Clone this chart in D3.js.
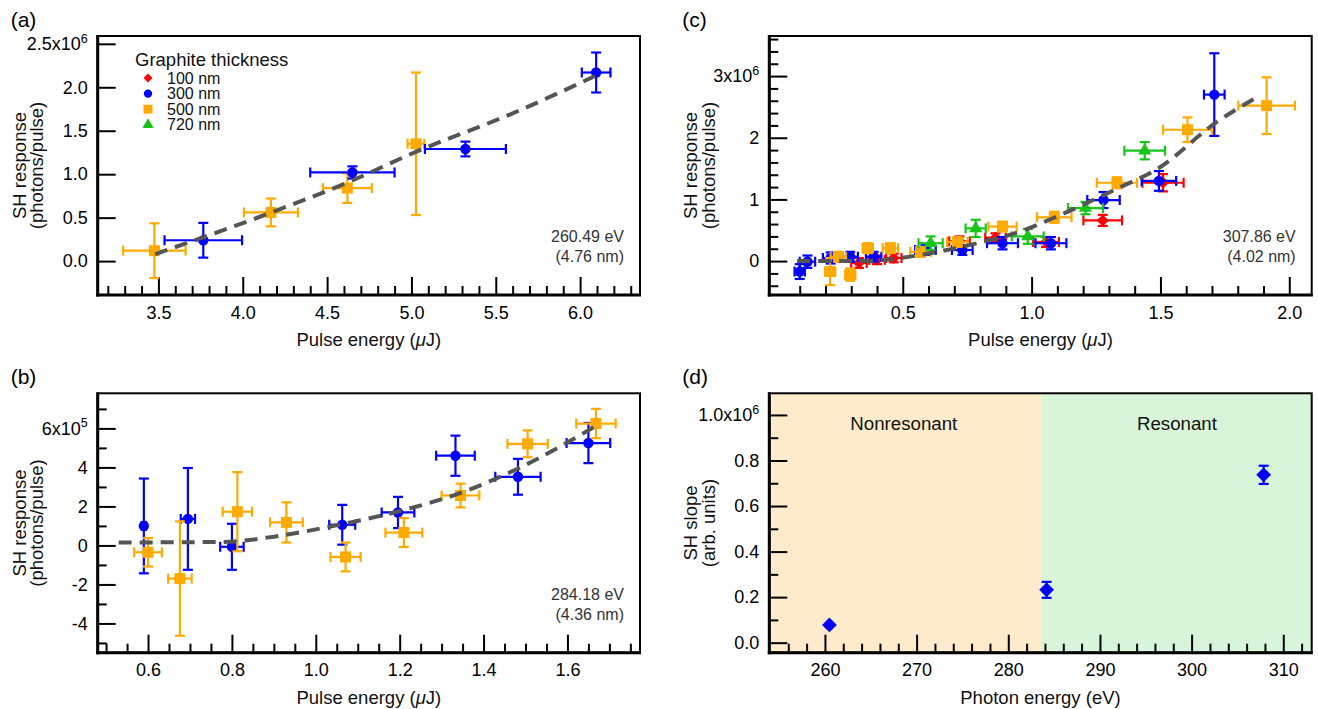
<!DOCTYPE html>
<html>
<head>
<meta charset="utf-8">
<script src="https://cdn.jsdelivr.net/npm/d3@7"></script>
<style>
  body { margin: 0; background: #fff; }
  svg { font-family: "Liberation Sans", Arial, Helvetica, sans-serif; }
</style>
</head>
<body>
<svg id="fig" width="1318" height="709"></svg>
<script>
// graphite thickness series
const thicknessLabels = ["100 nm", "300 nm", "500 nm", "720 nm"]
const thicknessColors = ["#ff0000", "#0000ff", "#ffaa00", "#18c418"]

// (a) 260.49 eV, y in 1e6 photons/pulse
const aOrangeX = [3.476, 4.167, 4.62, 5.027]
const aOrangeY = [0.12, 0.56, 0.84, 1.35]
const aOrangeXErr = [0.185, 0.16, 0.145, 0.05]
const aOrangeYErr = [0.315, 0.16, 0.17, 0.82]
const aBlueX = [3.766, 4.65, 5.32, 6.095]
const aBlueY = [0.24, 1.02, 1.29, 2.17]
const aBlueXErr = [0.23, 0.25, 0.24, 0.085]
const aBlueYErr = [0.2, 0.07, 0.085, 0.23]
const aFitX = [3.48, 4.17, 4.64, 5.03, 5.6, 6.10]
const aFitY = [0.08, 0.56, 0.92, 1.26, 1.70, 2.14]

// (b) 284.18 eV, y in 1e5 photons/pulse
const bBlueX = [0.59, 0.695, 0.80, 1.063, 1.196, 1.333, 1.482, 1.65]
const bBlueY = [1.0, 1.36, -0.07, 1.06, 1.69, 4.6, 3.52, 5.25]
const bBlueXErr = [0.005, 0.017, 0.028, 0.031, 0.039, 0.046, 0.054, 0.052]
const bBlueYErr = [2.43, 2.61, 1.18, 1.02, 0.8, 1.03, 0.92, 1.03]
const bOrangeX = [0.60, 0.676, 0.813, 0.93, 1.071, 1.21, 1.345, 1.505, 1.668]
const bOrangeY = [-0.35, -1.7, 1.73, 1.18, -0.59, 0.66, 2.56, 5.21, 6.25]
const bOrangeXErr = [0.033, 0.028, 0.035, 0.039, 0.036, 0.044, 0.045, 0.048, 0.047]
const bOrangeYErr = [0.73, 2.93, 2.03, 1.03, 0.74, 0.74, 0.61, 0.69, 0.75]
const bFitX = [0.53, 0.78, 0.90, 1.035, 1.196, 1.345, 1.48, 1.666]
const bFitY = [0.15, 0.18, 0.45, 0.97, 1.74, 2.69, 3.92, 6.1]

// (c) 307.86 eV, y in 1e6 photons/pulse
const cRedX = [0.33, 0.40, 0.465, 0.72, 0.86, 1.056, 1.276, 1.51]
const cRedY = [-0.03, 0.02, 0.05, 0.32, 0.38, 0.31, 0.66, 1.27]
const cRedXErr = [0.03, 0.03, 0.03, 0.04, 0.04, 0.05, 0.075, 0.08]
const cRedYErr = [0.08, 0.07, 0.07, 0.08, 0.07, 0.08, 0.09, 0.14]
const cBlueX = [0.10, 0.13, 0.22, 0.296, 0.387, 0.588, 0.731, 0.887, 1.075, 1.279, 1.494, 1.709]
const cBlueY = [-0.17, -0.01, 0.05, 0.07, 0.07, 0.18, 0.18, 0.29, 0.29, 0.99, 1.30, 2.70]
const cBlueXErr = [0.02, 0.03, 0.03, 0.03, 0.03, 0.04, 0.04, 0.06, 0.06, 0.063, 0.067, 0.04]
const cBlueYErr = [0.12, 0.1, 0.09, 0.08, 0.08, 0.08, 0.08, 0.1, 0.1, 0.13, 0.16, 0.67]
const cOrangeX = [0.218, 0.25, 0.296, 0.364, 0.452, 0.569, 0.712, 0.887, 1.088, 1.331, 1.605, 1.912]
const cOrangeY = [-0.17, 0.07, -0.22, 0.21, 0.21, 0.15, 0.31, 0.56, 0.71, 1.27, 2.13, 2.52]
const cOrangeXErr = [0.02, 0.03, 0.02, 0.02, 0.03, 0.04, 0.04, 0.055, 0.067, 0.078, 0.095, 0.11]
const cOrangeYErr = [0.22, 0.08, 0.1, 0.08, 0.08, 0.08, 0.08, 0.08, 0.09, 0.09, 0.2, 0.46]
const cGreenX = [0.608, 0.783, 0.985, 1.209, 1.439]
const cGreenY = [0.29, 0.53, 0.40, 0.86, 1.79]
const cGreenXErr = [0.047, 0.039, 0.062, 0.068, 0.079]
const cGreenYErr = [0.11, 0.14, 0.12, 0.1, 0.14]
const cFitX = [0.09, 0.35, 0.47, 0.61, 0.79, 0.97, 1.08, 1.335, 1.49, 1.72, 1.88]
const cFitY = [0.0, 0.0, 0.04, 0.13, 0.29, 0.50, 0.69, 1.18, 1.50, 2.26, 2.67]

// (d) SH slope vs photon energy, y in 1e6
const dPhotonEnergy = [260.49, 284.18, 307.86]
const dSlope = [0.078, 0.232, 0.737]
const dSlopeErr = [0, 0.035, 0.04]
const dRegions = ["Nonresonant", "Resonant"]
const dEdge = 283.6

const svg = d3.select("#fig")

function ticksRange(a, b, step, skipStep) {
  var out = []
  for (var i = 0; a + i * step <= b + 1e-9; i++) {
    var v = +(a + i * step).toFixed(4)
    if (skipStep && Math.abs(v / skipStep - Math.round(v / skipStep)) < 1e-6) continue
    out.push(v)
  }
  return out
}

function drawPanel(p) {
  var g = svg.append("g")
  var x = d3.scaleLinear().domain(p.xDomain).range([p.left, p.right])
  var y = d3.scaleLinear().domain(p.yDomain).range([p.bottom, p.top])

  if (p.bands) {
    p.bands.forEach(b => {
      g.append("rect")
        .attr("x", x(b.from)).attr("y", p.top)
        .attr("width", x(b.to) - x(b.from)).attr("height", p.bottom - p.top)
        .attr("fill", b.color)
    })
  }

  // minor + major ticks, pointing inward
  var xMinor = g.append("g").attr("transform", `translate(0,${p.bottom})`)
    .call(d3.axisBottom(x).tickValues(p.xMinor).tickSize(-9).tickFormat(""))
  var xMajor = g.append("g").attr("transform", `translate(0,${p.bottom})`)
    .call(d3.axisBottom(x).tickValues(p.xMajor).tickSize(-18).tickPadding(11).tickFormat(p.xFmt))
  var yMinor = g.append("g").attr("transform", `translate(${p.left},0)`)
    .call(d3.axisLeft(y).tickValues(p.yMinor).tickSize(-9).tickFormat(""))
  var yMajor = g.append("g").attr("transform", `translate(${p.left},0)`)
    .call(d3.axisLeft(y).tickValues(p.yMajor).tickSize(-18).tickPadding(10).tickFormat(p.yFmt))

  ;[xMinor, xMajor, yMinor, yMajor].forEach(a => {
    a.select(".domain").remove()
    a.selectAll("line").attr("stroke", "#000").attr("stroke-width", 2)
    a.selectAll("text").attr("font-size", 18).attr("fill", "#000")
      .attr("font-family", "Liberation Sans, Arial, sans-serif")
  })

  // exponent on the top y label
  var last = p.yMajor[p.yMajor.length - 1]
  yMajor.selectAll(".tick").filter(d => d === last).select("text").each(function (d) {
    var t = d3.select(this)
    t.text(null)
    t.append("tspan").text(p.yFmt(d) + "x10")
    t.append("tspan").attr("dy", "-0.6em").attr("font-size", 12.5).text(p.exponent)
  })

  // frame
  g.append("rect")
    .attr("x", p.left).attr("y", p.top)
    .attr("width", p.right - p.left).attr("height", p.bottom - p.top)
    .attr("fill", "none").attr("stroke", "#000").attr("stroke-width", 2)
  g.append("line").attr("x1", p.left).attr("x2", p.left).attr("y1", p.top - 1).attr("y2", p.bottom + 1.5)
    .attr("stroke", "#000").attr("stroke-width", 3)
  g.append("line").attr("x1", p.left - 1.5).attr("x2", p.right + 1).attr("y1", p.bottom).attr("y2", p.bottom)
    .attr("stroke", "#000").attr("stroke-width", 3)

  // series
  p.series.forEach(s => {
    var pts = s.x.map((v, i) => ({ x: v, y: s.y[i], xe: s.xe ? s.xe[i] : 0, ye: s.ye ? s.ye[i] : 0 }))
    var sg = g.append("g").attr("stroke", s.color).attr("fill", s.color)
    var cap = 5
    pts.forEach(d => {
      var cx = x(d.x), cy = y(d.y)
      if (d.ye > 0) {
        var y0 = y(d.y - d.ye), y1 = y(d.y + d.ye)
        sg.append("line").attr("x1", cx).attr("x2", cx).attr("y1", y0).attr("y2", y1).attr("stroke-width", 2.2)
        sg.append("line").attr("x1", cx - cap).attr("x2", cx + cap).attr("y1", y0).attr("y2", y0).attr("stroke-width", 2.2)
        sg.append("line").attr("x1", cx - cap).attr("x2", cx + cap).attr("y1", y1).attr("y2", y1).attr("stroke-width", 2.2)
      }
      if (d.xe > 0) {
        var x0 = x(d.x - d.xe), x1 = x(d.x + d.xe)
        sg.append("line").attr("x1", x0).attr("x2", x1).attr("y1", cy).attr("y2", cy).attr("stroke-width", 2.2)
        sg.append("line").attr("x1", x0).attr("x2", x0).attr("y1", cy - cap).attr("y2", cy + cap).attr("stroke-width", 2.2)
        sg.append("line").attr("x1", x1).attr("x2", x1).attr("y1", cy - cap).attr("y2", cy + cap).attr("stroke-width", 2.2)
      }
    })
    sg.selectAll("path.mk").data(pts).enter().append("path")
      .attr("class", "mk")
      .attr("stroke", "none")
      .attr("d", d3.symbol().type(s.shape).size(s.size))
      .attr("transform", d => `translate(${x(d.x)},${y(d.y)})` + (s.rotate ? " rotate(45)" : ""))
  })

  // fit
  if (p.fit) {
    var fitPts = p.fit.x.map((v, i) => [v, p.fit.y[i]])
    g.append("path")
      .datum(fitPts)
      .attr("d", d3.line().x(d => x(d[0])).y(d => y(d[1])).curve(d3.curveMonotoneX))
      .attr("fill", "none").attr("stroke", "#555").attr("stroke-width", 4)
      .attr("stroke-dasharray", "13,8")
  }

  // region labels
  if (p.regionLabels) {
    p.regionLabels.forEach(r => {
      g.append("text").attr("x", x(r.at)).attr("y", p.top + 37)
        .attr("text-anchor", "middle").attr("font-size", 18.7).attr("fill", "#111").text(r.text)
    })
  }

  // photon energy note
  if (p.note) {
    p.note.forEach((t, i) => {
      g.append("text").attr("x", p.right - 16).attr("y", p.bottom - 53 + i * 20)
        .attr("text-anchor", "end").attr("font-size", 16).attr("fill", "#333").text(t)
    })
  }

  // axis titles
  g.append("text").attr("x", (p.left + p.right) / 2).attr("y", p.bottom + 51)
    .attr("text-anchor", "middle").attr("font-size", 18.5).attr("fill", "#111")
    .html(p.xTitle)
  p.yTitle.forEach((t, i) => {
    var tx = p.left - 72 + i * 17.5, ty = (p.top + p.bottom) / 2
    g.append("text").attr("transform", `translate(${tx},${ty}) rotate(-90)`)
      .attr("text-anchor", "middle").attr("font-size", 18.5).attr("fill", "#111").text(t)
  })

  // panel letter
  g.append("text").attr("x", p.left - 87).attr("y", p.top - 9)
    .attr("font-size", 21).attr("fill", "#000").text(p.letter)

  return { x: x, y: y, g: g }
}

// plain hyphen for negatives, as in the figure
const fmt1 = v => d3.format(".1f")(v).replace("\u2212", "-")
const fmt0 = v => d3.format("d")(v).replace("\u2212", "-")
const pulseTitle = "Pulse energy (<tspan font-style='italic'>μ</tspan>J)"
const responseTitle = ["SH response", "(photons/pulse)"]

var panelA = drawPanel({
  letter: "(a)", left: 97.7, right: 640, top: 36, bottom: 295,
  xDomain: [3.14, 6.355], yDomain: [-0.39, 2.59],
  xMajor: ticksRange(3.5, 6.0, 0.5), xMinor: ticksRange(3.2, 6.3, 0.1, 0.5),
  yMajor: ticksRange(0, 2.5, 0.5), yMinor: [],
  xFmt: fmt1, yFmt: fmt1, exponent: "6",
  xTitle: pulseTitle, yTitle: responseTitle,
  note: ["260.49 eV", "(4.76 nm)"],
  series: [
    { x: aOrangeX, y: aOrangeY, xe: aOrangeXErr, ye: aOrangeYErr, color: thicknessColors[2], shape: d3.symbolSquare, size: 121 },
    { x: aBlueX, y: aBlueY, xe: aBlueXErr, ye: aBlueYErr, color: thicknessColors[1], shape: d3.symbolCircle, size: 85 }
  ],
  fit: { x: aFitX, y: aFitY }
})

drawPanel({
  letter: "(b)", left: 97.7, right: 640, top: 393.3, bottom: 652.7,
  xDomain: [0.48, 1.773], yDomain: [-5.5, 7.8],
  xMajor: ticksRange(0.6, 1.6, 0.2), xMinor: ticksRange(0.5, 1.75, 0.05, 0.2),
  yMajor: ticksRange(-4, 6, 2), yMinor: ticksRange(-5, 7, 1, 2),
  xFmt: fmt1, yFmt: fmt0, exponent: "5",
  xTitle: pulseTitle, yTitle: responseTitle,
  note: ["284.18 eV", "(4.36 nm)"],
  series: [
    { x: bBlueX, y: bBlueY, xe: bBlueXErr, ye: bBlueYErr, color: thicknessColors[1], shape: d3.symbolCircle, size: 85 },
    { x: bOrangeX, y: bOrangeY, xe: bOrangeXErr, ye: bOrangeYErr, color: thicknessColors[2], shape: d3.symbolSquare, size: 121 }
  ],
  fit: { x: bFitX, y: bFitY }
})

drawPanel({
  letter: "(c)", left: 769.3, right: 1311.7, top: 36, bottom: 295,
  xDomain: [-0.018, 2.087], yDomain: [-0.55, 3.65],
  xMajor: ticksRange(0.5, 2.0, 0.5), xMinor: ticksRange(0.1, 2.0, 0.1, 0.5),
  yMajor: ticksRange(0, 3, 1), yMinor: ticksRange(-0.4, 3.6, 0.2, 1),
  xFmt: fmt1, yFmt: fmt0, exponent: "6",
  xTitle: pulseTitle, yTitle: responseTitle,
  note: ["307.86 eV", "(4.02 nm)"],
  series: [
    { x: cRedX, y: cRedY, xe: cRedXErr, ye: cRedYErr, color: thicknessColors[0], shape: d3.symbolSquare, size: 72, rotate: true },
    { x: cBlueX, y: cBlueY, xe: cBlueXErr, ye: cBlueYErr, color: thicknessColors[1], shape: d3.symbolCircle, size: 85 },
    { x: cOrangeX, y: cOrangeY, xe: cOrangeXErr, ye: cOrangeYErr, color: thicknessColors[2], shape: d3.symbolSquare, size: 121 },
    { x: cGreenX, y: cGreenY, xe: cGreenXErr, ye: cGreenYErr, color: thicknessColors[3], shape: d3.symbolTriangle, size: 75 }
  ],
  fit: { x: cFitX, y: cFitY }
})

drawPanel({
  letter: "(d)", left: 769.3, right: 1311.7, top: 393.3, bottom: 652.7,
  xDomain: [253.93, 313.1], yDomain: [-0.044, 1.095],
  xMajor: ticksRange(260, 310, 10), xMinor: ticksRange(256, 312, 2, 10),
  yMajor: ticksRange(0, 1.0, 0.2), yMinor: ticksRange(0.1, 0.9, 0.2),
  xFmt: fmt0, yFmt: fmt1, exponent: "6",
  xTitle: "Photon energy (eV)", yTitle: ["SH slope", "(arb. units)"],
  bands: [
    { from: 253.93, to: dEdge, color: "#fdebcc" },
    { from: dEdge, to: 313.1, color: "#d8f5d9" }
  ],
  regionLabels: [{ text: dRegions[0], at: 268.6 }, { text: dRegions[1], at: 298.4 }],
  series: [
    { x: dPhotonEnergy, y: dSlope, ye: dSlopeErr, color: thicknessColors[1], shape: d3.symbolSquare, size: 110, rotate: true }
  ]
})

// legend in (a)
var legend = panelA.g.append("g")
legend.append("text").attr("x", 135).attr("y", 66).attr("font-size", 18.5).attr("fill", "#111").text("Graphite thickness")
var legendShapes = [d3.symbolSquare, d3.symbolCircle, d3.symbolSquare, d3.symbolTriangle]
var legendSizes = [40, 55, 80, 55]
thicknessLabels.forEach((lab, i) => {
  var cy = 78 + i * 15.6
  legend.append("path")
    .attr("d", d3.symbol().type(legendShapes[i]).size(legendSizes[i]))
    .attr("transform", `translate(148,${cy})` + (i === 0 ? " rotate(45)" : ""))
    .attr("fill", thicknessColors[i])
  legend.append("text").attr("x", 167).attr("y", cy + 5.5).attr("font-size", 16).attr("fill", "#111").text(lab)
})
</script>
</body>
</html>
